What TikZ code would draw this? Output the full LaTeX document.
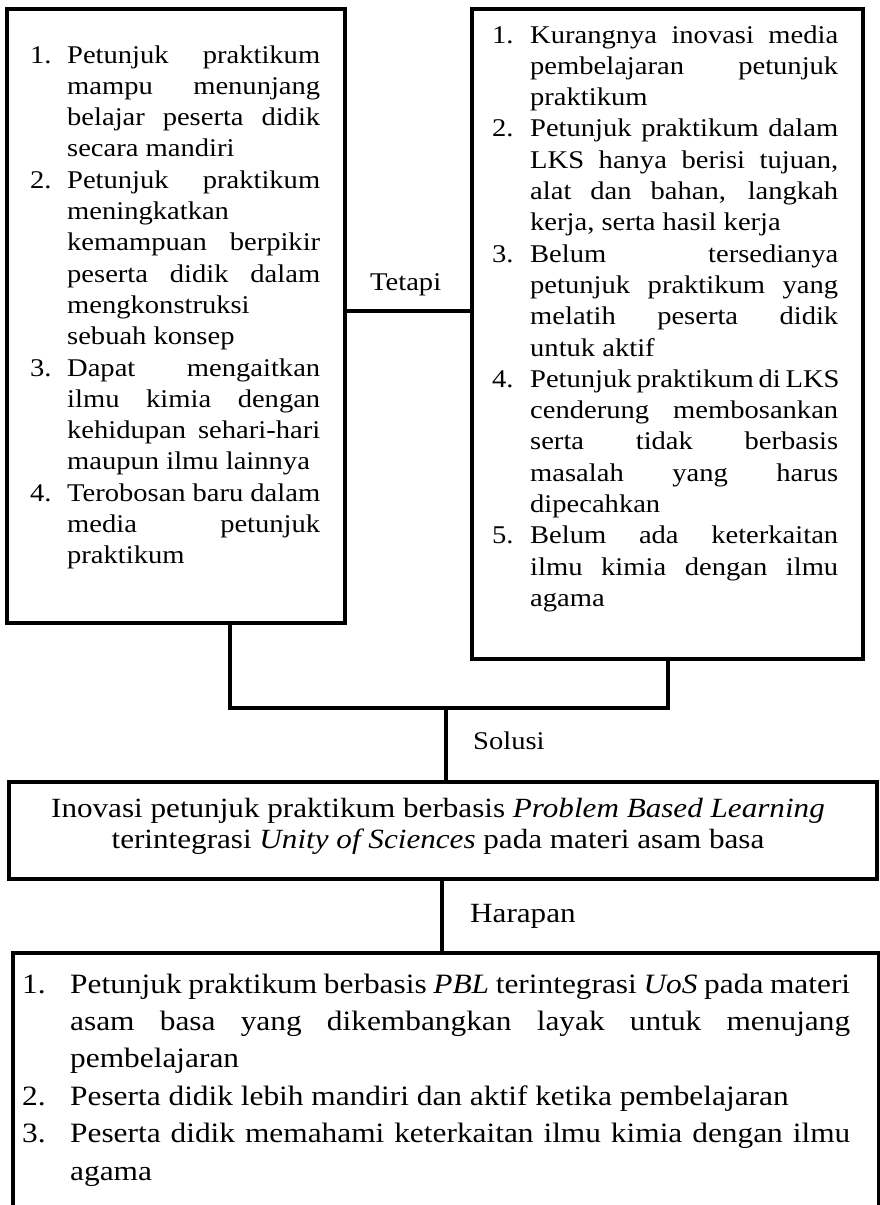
\documentclass[tikz,border=0pt]{standalone}
\usepackage{fontspec}
\setmainfont{Liberation Serif}[FakeStretch=1.12]
\newlength\tw
\newlength\numw
\newcommand\fs{\fontsize{25.5pt}{31.3pt}\selectfont}
\newcommand\fm{\fontsize{27.8pt}{31.3pt}\selectfont}
\newcommand\fb{\fontsize{28pt}{37.4pt}\selectfont}
\newcommand\itm[2]{\hbox{\hbox to \numw{#1\hfil}#2}}
\newcommand\J[1]{\hbox to \tw{#1}}
\newcommand\R[1]{\hbox to \tw{#1\hfil}}
\newcommand\C[1]{\hbox to 0pt{\hss #1\hss}}
\tikzset{
  box/.style={draw, line width=4pt, inner sep=0pt, anchor=north west},
  link/.style={line width=4pt},
  txt/.style={inner sep=0pt, anchor=base west},
  lbl/.style={inner sep=0pt, anchor=base west, font=\fs}
}
\begin{document}
\begin{tikzpicture}[x=1pt,y=-1pt]
\useasboundingbox (0,0) rectangle (880,1205);
\clip (0,0) rectangle (880,1205);
\fill[white] (0,0) rectangle (880,1205);

% boxes
\node[box, minimum width=338pt, minimum height=614pt] (L) at (5,7) {};
\node[box, minimum width=391pt, minimum height=650pt] (R) at (470,7) {};
\node[box, minimum width=868pt, minimum height=97pt] (M) at (7,780) {};
\node[box, minimum width=866pt, minimum height=320pt] (B) at (11,951) {};

% left text
\node[txt] (Lt) at (30,63) {\vtop{\fs\setlength\tw{253pt}\setlength\numw{37pt}%
\itm{1.}{\J{Petunjuk praktikum}}
\itm{}{\J{mampu menunjang}}
\itm{}{\J{belajar peserta didik}}
\itm{}{\R{secara mandiri}}
\itm{2.}{\J{Petunjuk praktikum}}
\itm{}{\R{meningkatkan}}
\itm{}{\J{kemampuan berpikir}}
\itm{}{\J{peserta didik dalam}}
\itm{}{\R{mengkonstruksi}}
\itm{}{\R{sebuah konsep}}
\itm{3.}{\J{Dapat mengaitkan}}
\itm{}{\J{ilmu kimia dengan}}
\itm{}{\J{kehidupan sehari-hari}}
\itm{}{\R{maupun ilmu lainnya}}
\itm{4.}{\J{Terobosan baru dalam}}
\itm{}{\J{media petunjuk}}
\itm{}{\R{praktikum}}}};

% right text
\node[txt] (Rt) at (492,43) {\vtop{\fs\setlength\tw{308pt}\setlength\numw{38pt}%
\itm{1.}{\J{Kurangnya inovasi media}}
\itm{}{\J{pembelajaran petunjuk}}
\itm{}{\R{praktikum}}
\itm{2.}{\J{Petunjuk praktikum dalam}}
\itm{}{\J{LKS hanya berisi tujuan,}}
\itm{}{\J{alat dan bahan, langkah}}
\itm{}{\R{kerja, serta hasil kerja}}
\itm{3.}{\J{Belum tersedianya}}
\itm{}{\J{petunjuk praktikum yang}}
\itm{}{\J{melatih peserta didik}}
\itm{}{\R{untuk aktif}}
\itm{4.}{\J{Petunjuk praktikum di LKS}}
\itm{}{\J{cenderung membosankan}}
\itm{}{\J{serta tidak berbasis}}
\itm{}{\J{masalah yang harus}}
\itm{}{\R{dipecahkan}}
\itm{5.}{\J{Belum ada keterkaitan}}
\itm{}{\J{ilmu kimia dengan ilmu}}
\itm{}{\R{agama}}}};

% middle text
\node[inner sep=0pt, anchor=base] (Mt) at (438,817) {\vtop{\fm%
\C{Inovasi petunjuk praktikum berbasis \textit{Problem Based Learning}}
\C{terintegrasi \textit{Unity of Sciences} pada materi asam basa}}};

% bottom text
\node[txt] (Bt) at (22,993) {\vtop{\fb\setlength\tw{780pt}\setlength\numw{48pt}%
\itm{1.}{\J{Petunjuk praktikum berbasis \textit{PBL} terintegrasi \textit{UoS} pada materi}}
\itm{}{\J{asam basa yang dikembangkan layak untuk menujang}}
\itm{}{\R{pembelajaran}}
\itm{2.}{\R{Peserta didik lebih mandiri dan aktif ketika pembelajaran}}
\itm{3.}{\J{Peserta didik memahami keterkaitan ilmu kimia dengan ilmu}}
\itm{}{\R{agama}}}};

% labels
\node[lbl] (tetapi) at (370,290) {Tetapi};
\node[lbl] (solusi) at (473,749) {Solusi};
\node[lbl, font=\fm] (harapan) at (470,922) {Harapan};

% connectors
\coordinate (J) at (446,708);
\draw[link] ([yshift=5pt]L.east) -- ([yshift=5pt]L.east -| R.west);
\draw[link] ([xshift=54pt]L.south) |- (J) -| (R.south);
\draw[line width=3.5pt] (J) -- (J |- M.north);
\draw[link] ([xshift=-1pt]M.south) -- ([xshift=-1pt]M.south |- B.north);
\end{tikzpicture}
\end{document}
